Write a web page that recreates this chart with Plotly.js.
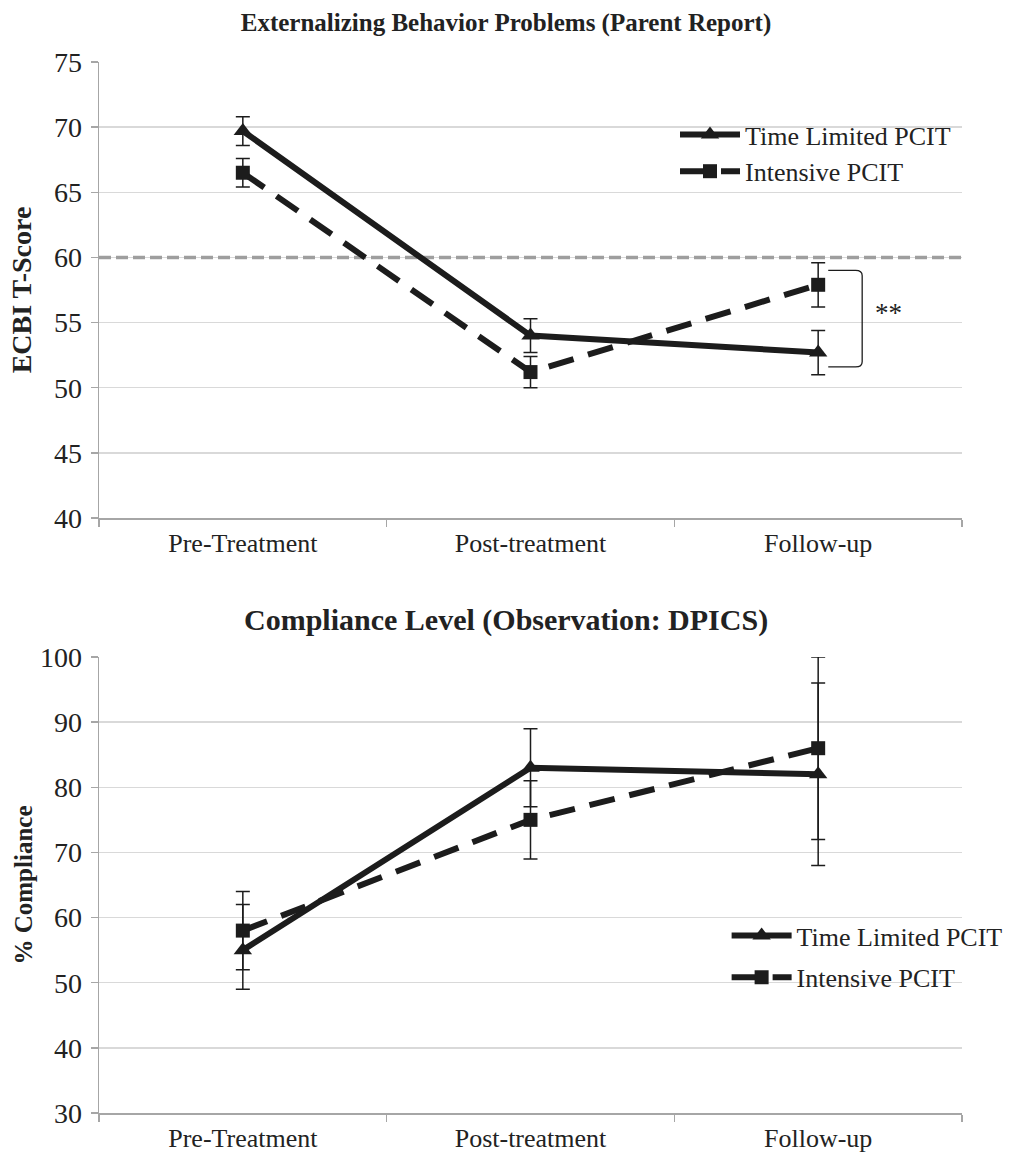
<!DOCTYPE html>
<html><head><meta charset="utf-8">
<script src="https://cdn.plot.ly/plotly-3.0.1.min.js"></script>
<style>body{margin:0;background:#fff}#chart{width:1012px;height:1153px}</style>
</head><body><div id="chart"></div><script>
// ---- data ----
const timepoints = ["Pre-Treatment", "Post-treatment", "Follow-up"];
const seriesNames = ["Time Limited PCIT", "Intensive PCIT"];

const ecbiTimeLimited = [69.7, 54.0, 52.7];
const ecbiTimeLimitedErr = [1.1, 1.3, 1.7];
const ecbiIntensive = [66.5, 51.2, 57.9];
const ecbiIntensiveErr = [1.1, 1.2, 1.7];
const ecbiClinicalCutoff = 60;
const ecbiSigBracket = {top: 59.0, bottom: 51.6, label: "**"};

const complianceTimeLimited = [55, 83, 82];
const complianceTimeLimitedErrPlus = [7, 6, 14];
const complianceTimeLimitedErrMinus = [6, 6, 14];
const complianceIntensive = [58, 75, 86];
const complianceIntensiveErr = [6, 6, 14];

const topTitle = "Externalizing Behavior Problems (Parent Report)";
const bottomTitle = "Compliance Level (Observation: DPICS)";
const topYTitle = "ECBI T-Score";
const bottomYTitle = "% Compliance";

// ---- styling ----
const SERIF = "Liberation Serif, Times New Roman, serif";
const INK = "#1c1c1c";
const AXIS = "#a6a6a6";
const GRID = "#d9d9d9";
const TXT = "#222222";
const xIdx = timepoints.map((_, i) => i);
const boundaries = [-0.5].concat(xIdx.map(i => i + 0.5));

function series(name, y, errPlus, errMinus, symbol, dash, xa, ya, legend) {
  return {
    type: "scatter", mode: "lines+markers", name: name,
    x: xIdx, y: y, xaxis: xa, yaxis: ya, legend: legend, showlegend: true,
    legendgroup: name + legend,
    line: {color: INK, width: 6, dash: dash},
    marker: {symbol: symbol, size: symbol === "square" ? 14 : 16, color: INK},
    error_y: {type: "data", symmetric: false, array: errPlus, arrayminus: errMinus,
              color: INK, thickness: 1.5, width: 7}
  };
}

const DASH = "26px,15px";
const traces = [
  series(seriesNames[0], ecbiTimeLimited, ecbiTimeLimitedErr, ecbiTimeLimitedErr, "triangle-up", "solid", "x", "y", "legend"),
  series(seriesNames[1], ecbiIntensive, ecbiIntensiveErr, ecbiIntensiveErr, "square", DASH, "x", "y", "legend"),
  series(seriesNames[0], complianceTimeLimited, complianceTimeLimitedErrPlus, complianceTimeLimitedErrMinus, "triangle-up", "solid", "x2", "y2", "legend2"),
  series(seriesNames[1], complianceIntensive, complianceIntensiveErr, complianceIntensiveErr, "square", DASH, "x2", "y2", "legend2")
];

const W = 1012, H = 1153;
const xDom = [99 / W, 962 / W];
const topDom = [1 - 518 / H, 1 - 62 / H];
const botDom = [1 - 1113 / H, 1 - 657 / H];

function xaxis(anchor) {
  return {
    domain: xDom, anchor: anchor, range: [-0.5, 2.5],
    tickmode: "array", tickvals: xIdx, ticktext: timepoints, ticks: "",
    showline: true, linecolor: AXIS, linewidth: 1.5, showgrid: false, zeroline: false,
    tickfont: {family: SERIF, size: 26, color: TXT}, ticklabelstandoff: 1,
    minor: {tickmode: "array", tickvals: boundaries, ticks: "outside", ticklen: 7,
            tickcolor: AXIS, tickwidth: 1.5, showgrid: false},
    fixedrange: true
  };
}
function yaxis(anchor, dom, range, dtick, title, titleSize, standoff) {
  return {
    domain: dom, anchor: anchor, range: range, dtick: dtick, tick0: range[0],
    ticks: "outside", ticklen: 7, tickcolor: AXIS, tickwidth: 1.5,
    showline: true, linecolor: AXIS, linewidth: 1.5,
    showgrid: true, gridcolor: GRID, gridwidth: 1.5, zeroline: false,
    tickfont: {family: SERIF, size: 28, color: TXT}, ticklabelstandoff: 3,
    title: {text: title, standoff: standoff, font: {family: SERIF, size: titleSize, weight: 700, color: TXT}},
    fixedrange: true
  };
}

const legendBase = {
  xanchor: "left", yanchor: "top", bgcolor: "rgba(0,0,0,0)",
  font: {family: SERIF, size: 26, color: TXT}, itemwidth: 60,
  traceorder: "grouped"
};

const layout = {
  width: W, height: H, margin: {l: 0, r: 0, t: 0, b: 0},
  paper_bgcolor: "#fff", plot_bgcolor: "#fff",
  title: {text: topTitle, x: 0.5, xref: "paper", xanchor: "center",
          y: 1 - 22 / H, yref: "paper", yanchor: "middle",
          font: {family: SERIF, size: 25, weight: 700, color: TXT}},
  xaxis: xaxis("y"),
  yaxis: yaxis("x", topDom, [40, 75], 5, topYTitle, 28, 14),
  xaxis2: xaxis("y2"),
  yaxis2: yaxis("x2", botDom, [30, 100], 10, bottomYTitle, 25, 0),
  legend: Object.assign({}, legendBase, {x: 0.667, y: 1 - 111 / H, tracegroupgap: 0}),
  legend2: Object.assign({}, legendBase, {x: 0.718, y: 1 - 912 / H, tracegroupgap: 5}),
  shapes: [
    {type: "line", xref: "x", yref: "y", x0: -0.5, x1: 2.5, y0: ecbiClinicalCutoff, y1: ecbiClinicalCutoff,
     line: {color: "#9e9e9e", width: 3.5, dash: "12px,5px"}, layer: "between"},
    {type: "path", xref: "x", yref: "y",
     path: "M 2.035," + ecbiSigBracket.top + " L 2.13," + ecbiSigBracket.top +
           " Q 2.153," + ecbiSigBracket.top + " 2.153," + (ecbiSigBracket.top - 0.4) +
           " L 2.153," + (ecbiSigBracket.bottom + 0.4) +
           " Q 2.153," + ecbiSigBracket.bottom + " 2.13," + ecbiSigBracket.bottom +
           " L 2.035," + ecbiSigBracket.bottom,
     line: {color: INK, width: 1.3}}
  ],
  annotations: [
    {text: ecbiSigBracket.label, xref: "x", yref: "y", x: 2.243,
     y: (ecbiSigBracket.top + ecbiSigBracket.bottom) / 2 + 0.4,
     showarrow: false, font: {family: SERIF, size: 27, color: TXT}},
    {text: bottomTitle, xref: "paper", yref: "paper", x: 0.5, y: 1 - 620 / H,
     xanchor: "center", yanchor: "middle", showarrow: false,
     font: {family: SERIF, size: 30, weight: 700, color: TXT}}
  ]
};

Plotly.newPlot("chart", traces, layout, {displayModeBar: false, staticPlot: true});
</script></body></html>
